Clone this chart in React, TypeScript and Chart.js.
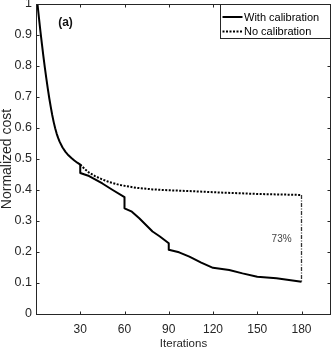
import { useEffect, useRef } from "react";
import { Chart, registerables } from "chart.js";

Chart.register(...registerables);

// ---- data ----
const withCalIter = [1, 2, 3, 4, 5, 6, 7, 8, 9, 10, 11, 12, 13, 14, 15, 16, 18, 20, 22, 24, 26, 28, 30, 30, 36, 45, 52, 60, 60, 65, 70, 79, 84, 90, 90, 97, 104, 112, 120, 131, 140, 150, 163, 180];
const withCalCost = [1.0, 0.955, 0.912, 0.871, 0.832, 0.795, 0.76, 0.727, 0.696, 0.668, 0.642, 0.619, 0.599, 0.582, 0.568, 0.556, 0.537, 0.523, 0.512, 0.503, 0.495, 0.488, 0.482, 0.455, 0.445, 0.421, 0.4, 0.377, 0.341, 0.33, 0.309, 0.266, 0.25, 0.228, 0.207, 0.199, 0.185, 0.166, 0.149, 0.142, 0.131, 0.12, 0.115, 0.104];

const noCalIter = [30, 33, 36, 40, 45, 50, 57, 68, 79, 90, 97, 106, 129, 152, 180];
const noCalCost = [0.482, 0.468, 0.456, 0.445, 0.434, 0.425, 0.416, 0.407, 0.402, 0.399, 0.398, 0.396, 0.391, 0.387, 0.384];

const gapIter = [180, 180];
const gapCost = [0.384, 0.104];

const xTickValues = [30, 60, 90, 120, 150, 180];
const yTickValues = [0, 0.1, 0.2, 0.3, 0.4, 0.5, 0.6, 0.7, 0.8, 0.9, 1];
const yTickLabels = ["0", "0.1", "0.2", "0.3", "0.4", "0.5", "0.6", "0.7", "0.8", "0.9", "1"];

const seriesLabels = ["With calibration", "No calibration"];
const panelLabel = "(a)";
const gapLabel = "73%";
const gapLabelPos = { x: 166.5, y: 0.24 };
const panelLabelPos = { x: 20, y: 0.94 };

const xTitle = "Iterations";
const yTitle = "Normalized cost";

const FONT = "'Liberation Sans', Arial, Helvetica, sans-serif";
const AXIS = "#262626";

const toPts = (xs: number[], ys: number[]) => xs.map((x, i) => ({ x, y: ys[i] }));

const decorPlugin = {
  id: "decor",
  afterDraw(chart: any) {
    const { ctx, chartArea: a, scales } = chart;
    const x = scales.x;
    const y = scales.y;
    ctx.save();
    // axes box
    ctx.strokeStyle = AXIS;
    ctx.lineWidth = 1;
    const L = Math.round(a.left) + 0.5;
    const R = Math.round(a.right) - 0.5;
    const T = Math.round(a.top) + 0.5;
    const B = Math.round(a.bottom) + 0.5;
    ctx.strokeRect(L, T, R - L, B - T);
    // inward ticks
    const tl = 3;
    ctx.beginPath();
    xTickValues.forEach((v) => {
      const px = Math.round(x.getPixelForValue(v)) + 0.5;
      ctx.moveTo(px, B);
      ctx.lineTo(px, B - tl);
      ctx.moveTo(px, T);
      ctx.lineTo(px, T + tl);
    });
    yTickValues.forEach((v) => {
      const py = Math.round(y.getPixelForValue(v)) + 0.5;
      ctx.moveTo(L, py);
      ctx.lineTo(L + tl, py);
      ctx.moveTo(R, py);
      ctx.lineTo(R - tl, py);
    });
    ctx.stroke();

    // panel label
    ctx.fillStyle = "#111";
    ctx.font = `bold 12px ${FONT}`;
    ctx.textAlign = "center";
    ctx.textBaseline = "middle";
    ctx.fillText(panelLabel, x.getPixelForValue(panelLabelPos.x), y.getPixelForValue(panelLabelPos.y));

    // gap label
    ctx.fillStyle = "#444";
    ctx.font = `10px ${FONT}`;
    ctx.fillText(gapLabel, x.getPixelForValue(gapLabelPos.x), y.getPixelForValue(gapLabelPos.y));

    // legend box
    const lx = Math.round(a.right) - 110.5;
    const ly = T;
    const lw = R - lx;
    const lh = 34;
    ctx.fillStyle = "#fff";
    ctx.fillRect(lx, ly, lw, lh);
    ctx.strokeStyle = AXIS;
    ctx.lineWidth = 1;
    ctx.strokeRect(lx, ly, lw, lh);
    const ds = chart.data.datasets;
    const rows = [a.top + 13, a.top + 27.5];
    [0, 1].forEach((i) => {
      const d = ds[i];
      const ry = rows[i];
      ctx.beginPath();
      ctx.strokeStyle = d.borderColor;
      ctx.lineWidth = d.borderWidth;
      ctx.setLineDash(d.borderDash || []);
      ctx.moveTo(lx + 2, ry);
      ctx.lineTo(lx + 22, ry);
      ctx.stroke();
      ctx.setLineDash([]);
      ctx.fillStyle = "#000";
      ctx.font = `11px ${FONT}`;
      ctx.textAlign = "left";
      ctx.textBaseline = "middle";
      ctx.fillText(d.label, lx + 23.5, ry + 0.5);
    });
    ctx.restore();
  },
};

export default function App() {
  const ref = useRef<HTMLCanvasElement | null>(null);
  useEffect(() => {
    if (!ref.current) return;
    const chart = new Chart(ref.current, {
      type: "line",
      data: {
        datasets: [
          {
            label: seriesLabels[0],
            data: toPts(withCalIter, withCalCost),
            borderColor: "#000",
            borderWidth: 2,
            pointRadius: 0,
            tension: 0,
            borderJoinStyle: "round",
          },
          {
            label: seriesLabels[1],
            data: toPts(noCalIter, noCalCost),
            borderColor: "#000",
            borderWidth: 2,
            borderDash: [2, 1.5],
            pointRadius: 0,
            tension: 0,
          },
          {
            label: "gap",
            data: toPts(gapIter, gapCost),
            borderColor: "#333",
            borderWidth: 1.3,
            borderDash: [4, 1.5, 1, 1.5],
            pointRadius: 0,
          },
        ],
      },
      options: {
        responsive: false,
        animation: false,
        layout: { padding: { top: 4, right: 1, left: 0, bottom: 0 } },
        plugins: { legend: { display: false }, tooltip: { enabled: false } },
        scales: {
          x: {
            type: "linear",
            min: 0,
            max: 200,
            afterBuildTicks: (s: any) => {
              s.ticks = xTickValues.map((v) => ({ value: v }));
            },
            ticks: {
              font: { family: FONT, size: 12 },
              color: AXIS,
              padding: 8,
              maxRotation: 0,
              autoSkip: false,
            },
            grid: { display: false, drawTicks: false },
            border: { display: false },
            title: {
              display: true,
              text: xTitle,
              color: AXIS,
              font: { family: FONT, size: 11.5, lineHeight: 1 },
              padding: { top: 0, bottom: -0.5 },
            },
            afterFit: (s: any) => {
              s.height = 35;
              s.paddingLeft = 0;
              s.paddingRight = 0;
            },
          },
          y: {
            type: "linear",
            min: 0,
            max: 1,
            afterBuildTicks: (s: any) => {
              s.ticks = yTickValues.map((v) => ({ value: v }));
            },
            ticks: {
              font: { family: FONT, size: 12.5 },
              color: AXIS,
              padding: 4,
              autoSkip: false,
              callback: (_v: any, i: number) => yTickLabels[i],
            },
            grid: { display: false, drawTicks: false },
            border: { display: false },
            title: {
              display: true,
              text: yTitle,
              color: AXIS,
              font: { family: FONT, size: 14, lineHeight: 1 },
              padding: { top: 0, bottom: 0 },
            },
            afterFit: (s: any) => {
              s.width = 36;
              s.paddingTop = 0;
              s.paddingBottom = 0;
            },
          },
        },
      },
      plugins: [decorPlugin],
    } as any);
    return () => chart.destroy();
  }, []);
  return (
    <div style={{ position: "fixed", left: 0, top: 0, width: 332, height: 349, background: "#fff" }}>
      <canvas ref={ref} width={332} height={349} style={{ display: "block" }} />
    </div>
  );
}
